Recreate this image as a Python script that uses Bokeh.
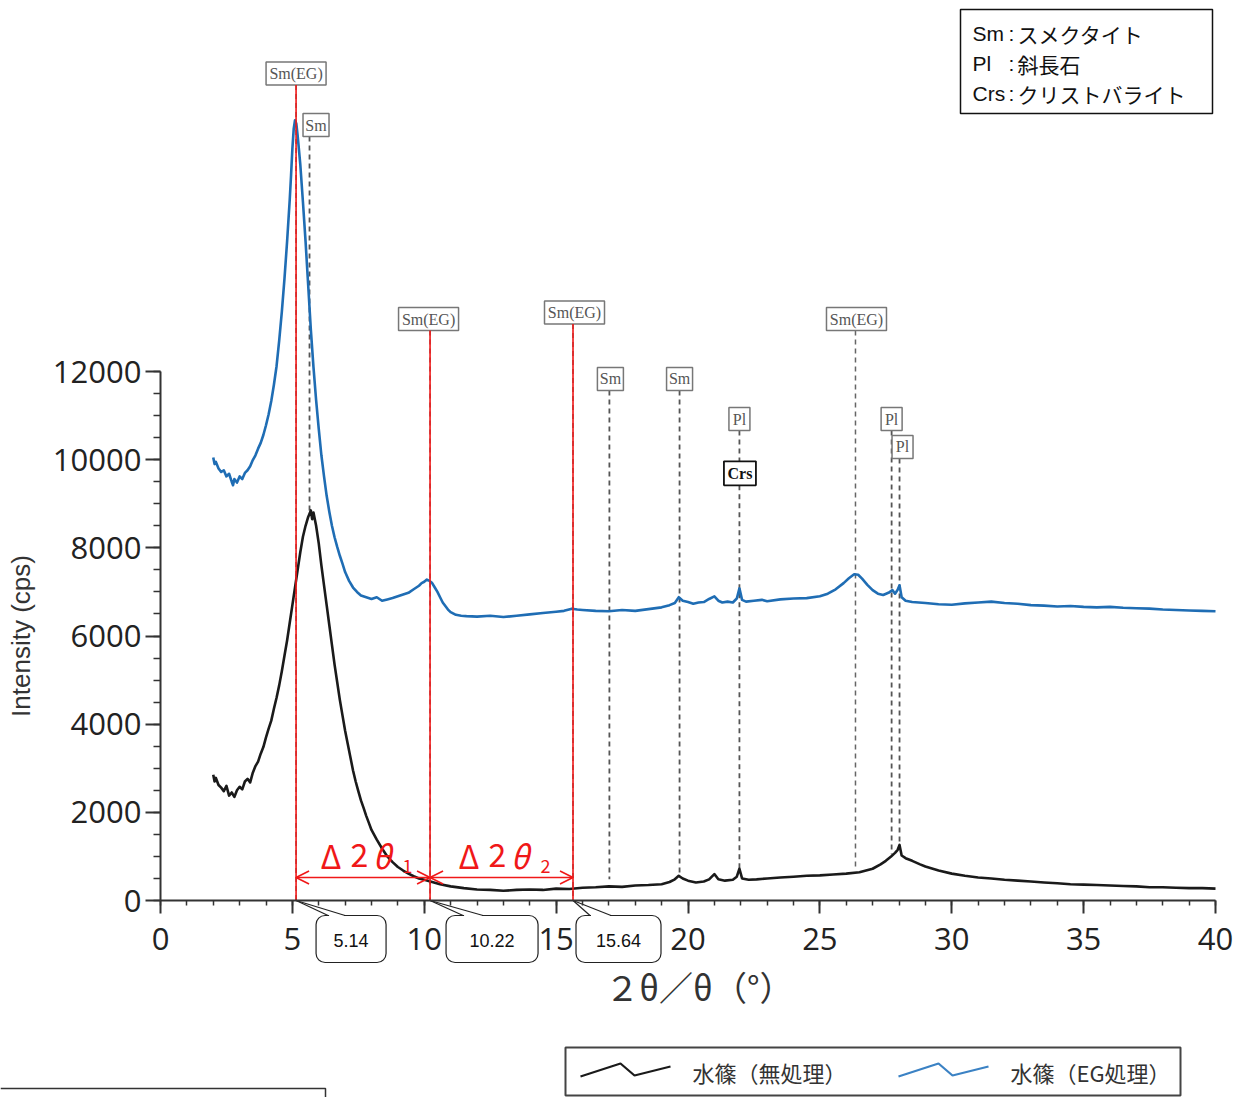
from bokeh.plotting import figure
from bokeh.models import Range1d, LinearAxis, SingleIntervalTicker, Arrow, OpenHead
from bokeh.core.properties import value
from bokeh.embed import file_html
from bokeh.resources import INLINE

# ---------------- data ----------------
two_theta_eg = [2.00, 2.05, 2.10, 2.20, 2.30, 2.40, 2.50, 2.60, 2.70, 2.75, 2.80, 2.90, 3.00, 3.10, 3.20,
                3.30, 3.40, 3.50, 3.60, 3.70, 3.80, 3.90, 4.00, 4.10, 4.20, 4.30, 4.40, 4.50, 4.60, 4.70,
                4.80, 4.90, 4.95, 5.00, 5.05, 5.10, 5.15, 5.20, 5.30, 5.40, 5.50, 5.60, 5.70, 5.80, 5.90,
                6.00, 6.10, 6.20, 6.30, 6.40, 6.50, 6.60, 6.70, 6.80, 6.90, 7.00, 7.15, 7.30, 7.45, 7.60,
                7.80, 8.00, 8.20, 8.40, 8.60, 8.80, 9.00, 9.20, 9.40, 9.60, 9.80, 9.90, 10.00, 10.10, 10.20,
                10.30, 10.40, 10.50, 10.60, 10.70, 10.80, 10.90, 11.00, 11.20, 11.40, 11.60, 12.00, 12.50,
                13.00, 13.50, 14.00, 14.50, 15.00, 15.30, 15.60, 15.80, 16.00, 16.50, 17.00, 17.50, 18.00,
                18.50, 19.00, 19.30, 19.50, 19.65, 19.80, 20.00, 20.20, 20.40, 20.60, 20.80, 21.00, 21.15,
                21.30, 21.50, 21.70, 21.85, 21.95, 22.05, 22.20, 22.50, 22.80, 23.00, 23.50, 24.00, 24.50,
                25.00, 25.30, 25.60, 25.90, 26.10, 26.30, 26.45, 26.60, 26.80, 27.00, 27.20, 27.40, 27.60,
                27.75, 27.85, 27.95, 28.02, 28.10, 28.25, 28.50, 29.00, 29.50, 30.00, 30.50, 31.00, 31.50,
                32.00, 32.50, 33.00, 33.50, 34.00, 34.50, 35.00, 35.50, 36.00, 36.50, 37.00, 37.50, 38.00,
                38.50, 39.00, 39.50, 40.00]
intensity_eg = [10050, 9900, 9950, 9800, 9720, 9760, 9620, 9680, 9500, 9420, 9560, 9480, 9620, 9560, 9700,
                9760, 9850, 9990, 10100, 10250, 10380, 10560, 10780, 11030, 11330, 11700, 12120, 12700, 13350, 14100,
                14950, 15900, 16450, 17050, 17500, 17700, 17620, 17350, 16700, 15850, 14950, 13950, 12950, 12100, 11350,
                10700, 10100, 9620, 9180, 8820, 8500, 8240, 8020, 7820, 7640, 7450, 7250, 7100, 7000, 6920,
                6880, 6840, 6880, 6800, 6830, 6860, 6900, 6940, 6980, 7060, 7140, 7200, 7230, 7280, 7250,
                7200, 7100, 7000, 6880, 6760, 6680, 6600, 6540, 6480, 6460, 6450, 6440, 6460,
                6430, 6460, 6490, 6520, 6550, 6570, 6620, 6600, 6590, 6570, 6560, 6590, 6570,
                6610, 6650, 6700, 6750, 6880, 6800, 6770, 6730, 6760, 6770, 6840, 6900, 6800,
                6760, 6780, 6760, 6850, 7080, 6820, 6780, 6800, 6820, 6790, 6830, 6850, 6860,
                6900, 6960, 7060, 7200, 7310, 7400, 7390, 7300, 7160, 7040, 6960, 6930, 6980,
                7040, 6960, 7050, 7150, 6880, 6800, 6770, 6750, 6720, 6710, 6740, 6760, 6780,
                6750, 6730, 6700, 6690, 6670, 6680, 6660, 6650, 6660, 6640, 6630, 6620, 6600,
                6590, 6580, 6570, 6560]

two_theta_raw = [2.00, 2.05, 2.10, 2.20, 2.30, 2.40, 2.50, 2.60, 2.70, 2.80, 2.90, 3.00, 3.10, 3.20, 3.30,
                 3.40, 3.50, 3.60, 3.70, 3.80, 3.90, 4.00, 4.10, 4.20, 4.30, 4.40, 4.50, 4.60, 4.70, 4.80,
                 4.90, 5.00, 5.10, 5.20, 5.30, 5.40, 5.50, 5.60, 5.70, 5.75, 5.80, 5.90, 6.00, 6.10, 6.20,
                 6.30, 6.40, 6.50, 6.60, 6.70, 6.80, 6.90, 7.00, 7.10, 7.20, 7.30, 7.40, 7.50, 7.60, 7.70,
                 7.80, 7.90, 8.00, 8.20, 8.40, 8.60, 8.80, 9.00, 9.20, 9.40, 9.60, 9.80, 10.00, 10.30, 10.60,
                 11.00, 11.50, 12.00, 12.50, 13.00, 13.50, 14.00, 14.50, 15.00, 15.50, 16.00, 16.50, 17.00,
                 17.50, 18.00, 18.50, 19.00, 19.30, 19.50, 19.65, 19.80, 20.00, 20.30, 20.60, 20.80, 21.00,
                 21.15, 21.40, 21.70, 21.85, 21.95, 22.05, 22.30, 22.60, 23.00, 23.50, 24.00, 24.50, 25.00,
                 25.50, 26.00, 26.50, 27.00, 27.30, 27.50, 27.70, 27.85, 27.95, 28.02, 28.10, 28.25, 28.50,
                 28.80, 29.00, 29.50, 30.00, 30.50, 31.00, 31.50, 32.00, 32.50, 33.00, 33.50, 34.00, 34.50,
                 35.00, 35.50, 36.00, 36.50, 37.00, 37.50, 38.00, 38.50, 39.00, 39.50, 40.00]
intensity_raw = [2850, 2700, 2780, 2620, 2560, 2480, 2600, 2380, 2450, 2350, 2500, 2580, 2520, 2700, 2760,
                 2680, 2900, 3050, 3150, 3330, 3480, 3700, 3900, 4080, 4350, 4600, 4880, 5200, 5550, 5900,
                 6300, 6700, 7100, 7500, 7900, 8250, 8500, 8700, 8850, 8650, 8800, 8500, 8100, 7600, 7150,
                 6700, 6250, 5800, 5350, 4950, 4550, 4200, 3850, 3550, 3250, 2950, 2700, 2480, 2270, 2100,
                 1920, 1760, 1600, 1380, 1180, 1000, 870, 760, 680, 610, 550, 500, 470, 420, 370,
                 320, 280, 250, 240, 220, 240, 250, 240, 270, 260, 290, 300, 320,
                 310, 340, 350, 370, 420, 480, 560, 500, 450, 410, 430, 480, 600,
                 480, 450, 470, 540, 720, 500, 470, 480, 500, 520, 540, 560, 570,
                 590, 610, 640, 720, 820, 900, 1000, 1080, 1150, 1260, 1020, 960, 900,
                 820, 770, 680, 610, 560, 520, 500, 470, 450, 430, 410, 390, 370,
                 360, 350, 340, 330, 320, 300, 300, 290, 280, 280, 270]

# peak identification marks
peak_names = ["Sm(EG)", "Sm", "Sm(EG)", "Sm(EG)", "Sm", "Sm", "Pl", "Sm(EG)", "Pl", "Pl"]
peak_positions = [5.14, 5.65, 10.22, 15.64, 17.02, 19.68, 21.95, 26.35, 27.72, 28.02]
peak_label_levels = [18760, 17590, 13190, 13340, 11830, 11830, 10920, 13190, 10920, 10290]
peak_line_bottoms = [0, 8800, 0, 0, 480, 620, 700, 700, 1050, 1250]
crs_position = 21.95
crs_level = 9690

# measured d-spacing positions
delta_positions = [5.14, 10.22, 15.64]
delta_labels = ["5.14", "10.22", "15.64"]

x_ticks_interval = 5
y_ticks_interval = 2000

# mineral key
key_abbr = ["Sm", "Pl", "Crs"]
key_names = ["スメクタイト", "斜長石", "クリストバライト"]

# ---------------- layout helpers (image pixel -> data) ----------------
X0PX, XS = 160.0, 26.375          # px of 2θ = 0, px per degree
Y0PX, YS = 900.0, 529.0 / 12000   # px of intensity 0, px per cps
W, H = 1236, 1097


def dx(px):
    return (px - X0PX) / XS


def dy(py):
    return (Y0PX - py) / YS


def pxx(d):
    return X0PX + d * XS


p = figure(width=W, height=H, x_range=Range1d(dx(0), dx(W)), y_range=Range1d(dy(H), dy(0)),
           output_backend="svg", toolbar_location=None, x_axis_type=None, y_axis_type=None,
           min_border=0, outline_line_color=None)
p.background_fill_color = "white"
p.border_fill_color = "white"

AX_COL = "#333333"
TICK_FONT = "Open Sans"

xaxis = LinearAxis(ticker=SingleIntervalTicker(interval=x_ticks_interval, num_minor_ticks=5),
                   bounds=(0, 40), fixed_location=0)
xaxis.axis_line_color = AX_COL
xaxis.axis_line_width = 2
xaxis.major_tick_line_color = AX_COL
xaxis.major_tick_line_width = 2
xaxis.major_tick_out = 13
xaxis.major_tick_in = 0
xaxis.minor_tick_line_color = AX_COL
xaxis.minor_tick_line_width = 1.5
xaxis.minor_tick_out = 5
xaxis.minor_tick_in = 0
xaxis.major_label_text_font = TICK_FONT
xaxis.major_label_text_font_size = "31px"
xaxis.major_label_text_color = "#222222"
xaxis.major_label_standoff = 14
xaxis.axis_label = "\u00a0\u00a0\u00a0２θ／θ（°）"
xaxis.axis_label_text_font = "Noto Sans CJK JP"
xaxis.axis_label_text_font_size = "34px"
xaxis.axis_label_text_font_style = "normal"
xaxis.axis_label_text_color = "#333333"
xaxis.axis_label_standoff = 9
p.add_layout(xaxis, "below")

yaxis = LinearAxis(ticker=SingleIntervalTicker(interval=y_ticks_interval, num_minor_ticks=4),
                   bounds=(0, 12000), fixed_location=0)
yaxis.axis_line_color = AX_COL
yaxis.axis_line_width = 2
yaxis.major_tick_line_color = AX_COL
yaxis.major_tick_line_width = 2
yaxis.major_tick_out = 15
yaxis.major_tick_in = 0
yaxis.minor_tick_line_color = AX_COL
yaxis.minor_tick_line_width = 1.5
yaxis.minor_tick_out = 7
yaxis.minor_tick_in = 0
yaxis.major_label_text_font = TICK_FONT
yaxis.major_label_text_font_size = "31px"
yaxis.major_label_text_color = "#222222"
yaxis.major_label_standoff = 4
yaxis.axis_label = "Intensity (cps)"
yaxis.axis_label_text_font = "Liberation Sans"
yaxis.axis_label_text_font_size = "26px"
yaxis.axis_label_text_font_style = "normal"
yaxis.axis_label_text_color = "#333333"
yaxis.axis_label_standoff = 14
p.add_layout(yaxis, "left")

# ---------------- peak marker lines & labels ----------------
BOX_H = 23 / YS
for name, pos, lvl, bot in zip(peak_names, peak_positions, peak_label_levels, peak_line_bottoms):
    top = lvl - BOX_H / 2
    if name == "Sm(EG)":
        p.segment(x0=[pos], y0=[top], x1=[pos], y1=[bot], line_color="#666666", line_width=1.5,
                  line_dash="5 4")
    elif pos == crs_position:
        p.segment(x0=[pos, pos], y0=[top, crs_level - 12 / YS], x1=[pos, pos],
                  y1=[crs_level + 12 / YS, bot], line_color="#555555", line_width=1.8, line_dash="5 4")
    else:
        p.segment(x0=[pos], y0=[top], x1=[pos], y1=[bot], line_color="#555555", line_width=1.8,
                  line_dash="5 4")

label_offsets_px = [0, 6.5, -1.5, 1.5, 1, 0, 0, 1, 0, 3]
for name, pos, lvl, off in zip(peak_names, peak_positions, peak_label_levels, label_offsets_px):
    cx = pos + off / XS
    w = 60 if name == "Sm(EG)" else (26 if name == "Sm" else 21)
    p.rect(x=[cx], y=[lvl], width=w, height=23, width_units="screen", height_units="screen",
           fill_color="white", line_color="#777777", line_width=1.5)
    p.text(x=[cx], y=[lvl], text=[name], text_align="center", text_baseline="middle",
           text_font=value("Liberation Serif"), text_font_size="16px", text_color="#555555")

p.rect(x=[crs_position + 0.5 / XS], y=[crs_level], width=32, height=24, width_units="screen",
       height_units="screen", fill_color="white", line_color="#111111", line_width=1.8)
p.text(x=[crs_position + 0.5 / XS], y=[crs_level], text=["Crs"], text_align="center", text_baseline="middle",
       text_font=value("Liberation Serif"), text_font_style="bold", text_font_size="16px", text_color="#111111")

# ---------------- curves ----------------
p.line(two_theta_eg, intensity_eg, line_color="#1f6db4", line_width=2.6, line_join="round")
p.line(two_theta_raw, intensity_raw, line_color="#1a1a1a", line_width=2.6, line_join="round")

# ---------------- red d-spacing lines ----------------
red_tops = [peak_label_levels[0] - BOX_H / 2, peak_label_levels[2] - BOX_H / 2, peak_label_levels[3] - BOX_H / 2]
RED = "#f01818"
p.segment(x0=delta_positions, y0=red_tops, x1=delta_positions, y1=[0, 0, 0], line_color=RED, line_width=1.6)

arrow_level = dy(877)
for a, b in zip(delta_positions[:-1], delta_positions[1:]):
    p.add_layout(Arrow(x_start=a, y_start=arrow_level, x_end=b, y_end=arrow_level, line_color=RED,
                       line_width=1.6,
                       start=OpenHead(size=13, line_color=RED, line_width=1.6),
                       end=OpenHead(size=13, line_color=RED, line_width=1.6)))

delta_text_px = [320, 458]
for i, tx in enumerate(delta_text_px):
    for ch, off, style in [("Δ", 0, "normal"), ("2", 30, "normal"), ("θ", 52, "italic")]:
        p.text(x=[dx(tx + off)], y=[dy(854)], text=[ch], text_align="left", text_baseline="middle",
               text_font=value("Noto Sans CJK JP"), text_font_size="32px", text_font_style=style,
               text_color=RED)
    p.text(x=[dx(tx + 82)], y=[dy(865)], text=[str(i + 1)], text_align="left", text_baseline="middle",
           text_font=value("Noto Sans CJK JP"), text_font_size="18px", text_color=RED)

# ---------------- callouts with values ----------------
callout_box_px = [(20, 90), (16, 108), (3, 88)]
callout_tail_px = [(32, 49), (33, 53), (17, 38)]
for pos, lab, (l, r), (t1, t2) in zip(delta_positions, delta_labels, callout_box_px, callout_tail_px):
    px0 = pxx(pos)
    p.quad(left=[dx(px0 + l)], right=[dx(px0 + r)], top=[dy(915)], bottom=[dy(962)],
           fill_color="white", line_color="#222222", line_width=1.2, border_radius=9)
    p.segment(x0=[dx(px0 + t1 + 1)], y0=[dy(915)], x1=[dx(px0 + t2 - 1)], y1=[dy(915)],
              line_color="white", line_width=2.5)
    p.segment(x0=[pos, pos], y0=[0, 0], x1=[dx(px0 + t1), dx(px0 + t2)], y1=[dy(915), dy(915)],
              line_color="#222222", line_width=1.2)
    p.text(x=[dx(px0 + (l + r) / 2)], y=[dy(940)], text=[lab], text_align="center", text_baseline="middle",
           text_font=value("Liberation Sans"), text_font_size="18px", text_color="#111111")

# ---------------- mineral key (top right) ----------------
p.rect(x=[dx(1086)], y=[dy(61)], width=252, height=104, width_units="screen", height_units="screen",
       fill_color="white", line_color="#111111", line_width=1.5)
for k, (ab, nm) in enumerate(zip(key_abbr, key_names)):
    yy = dy(33 + 30 * k)
    p.text(x=[dx(972)], y=[yy], text=[ab], text_align="left", text_baseline="middle",
           text_font=value("Liberation Sans"), text_font_size="21px", text_color="#111111")
    p.text(x=[dx(1011)], y=[yy], text=[":"], text_align="center", text_baseline="middle",
           text_font=value("Liberation Sans"), text_font_size="21px", text_color="#111111")
    p.text(x=[dx(1017)], y=[yy], text=[nm], text_align="left", text_baseline="middle",
           text_font=value("Noto Sans CJK JP"), text_font_size="21px", text_color="#111111")

# ---------------- series legend (bottom) ----------------
p.rect(x=[dx(872.5)], y=[dy(1071)], width=615, height=48, width_units="screen", height_units="screen",
       fill_color="white", line_color="#444444", line_width=2)
zig_dx = [0, 40, 54, 90]
zig_dy = [5, -8, 4, -5]
legend_items = [("水篠（無処理）", "#1a1a1a", 580, 692), ("水篠（EG処理）", "#3b82c4", 898, 1010)]
for label, col, zx, tx in legend_items:
    p.line([dx(zx + d) for d in zig_dx], [dy(1071 + e) for e in zig_dy], line_color=col, line_width=2.2)
    p.text(x=[dx(tx)], y=[dy(1071)], text=[label], text_align="left", text_baseline="middle",
           text_font=value("Noto Sans CJK JP"), text_font_size="22px", text_color="#333333")

# partial box at bottom left
p.line([dx(0), dx(325), dx(325)], [dy(1088), dy(1088), dy(1097)], line_color="#333333", line_width=1.5)

open("out.html", "w").write(file_html(p, INLINE))
